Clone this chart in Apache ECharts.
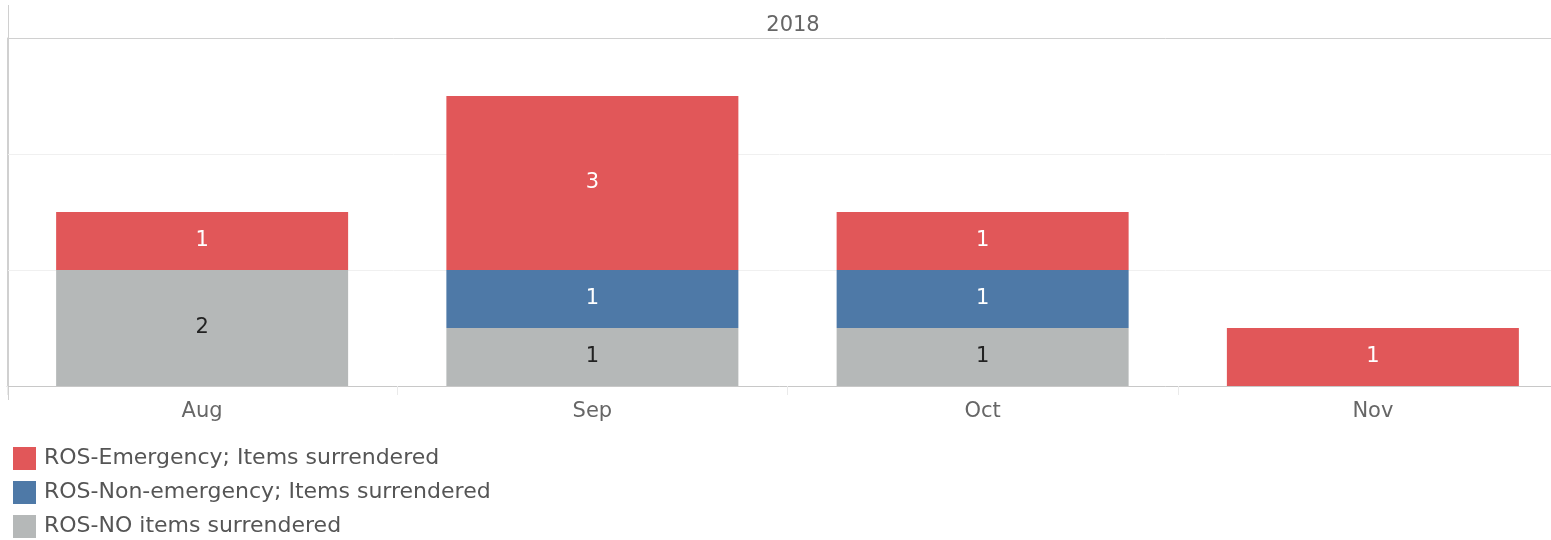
<!DOCTYPE html>
<html>
<head>
<meta charset="utf-8">
<script src="https://cdn.jsdelivr.net/npm/echarts@6/dist/echarts.min.js"></script>
<style>
  html, body { margin: 0; padding: 0; background: #fff; }
  #chart { width: 1551px; height: 540px; }
</style>
</head>
<body>
<div id="chart"></div>
<script>
const meses = ["Aug", "Sep", "Oct", "Nov"];
const anio = "2018";
const sinItems = [2, 1, 1, null];
const noEmergencia = [null, 1, 1, null];
const emergencia = [1, 3, 1, 1];

const nombres = [
    "ROS-Emergency; Items surrendered",
    "ROS-Non-emergency; Items surrendered",
    "ROS-NO items surrendered"
];
const colores = ["#e15759", "#4e79a7", "#b5b8b8"];
const fuente = "'DejaVu Sans', 'Noto Sans', sans-serif";

const contenedor = document.getElementById("chart");
const miGrafico = echarts.init(contenedor);

function serie(nombre, datos, color, colorTexto) {
    return {
        name: nombre,
        type: "bar",
        stack: "total",
        data: datos,
        barWidth: 292,
        itemStyle: { color: color },
        label: {
            show: true,
            position: "inside",
            color: colorTexto,
            fontSize: 21,
            fontFamily: fuente
        },
        emphasis: { disabled: true }
    };
}

const opciones = {
    animation: false,
    title: {
        text: anio,
        left: 788,
        textAlign: "center",
        top: 10,
        textStyle: { color: "#666", fontSize: 21, fontWeight: "normal", fontFamily: fuente }
    },
    legend: {
        orient: "vertical",
        left: 8,
        top: 442,
        height: 100,
        icon: "rect",
        itemWidth: 23,
        itemHeight: 23,
        itemGap: 11,
        data: nombres,
        selectedMode: false,
        textStyle: { color: "#555", fontSize: 22, fontFamily: fuente, padding: [0, 0, 0, 3] }
    },
    grid: {
        left: 7,
        top: 38,
        right: -17,
        bottom: 154,
        outerBoundsMode: "none",
        containLabel: false
    },
    xAxis: {
        type: "category",
        data: meses,
        axisLine: { show: true, lineStyle: { color: "#c8c8c8", width: 1 } },
        axisTick: { show: true, length: 9, lineStyle: { color: "#eaeaea" } },
        axisLabel: { color: "#666", fontSize: 21, margin: 15, fontFamily: fuente }
    },
    yAxis: {
        type: "value",
        min: 0,
        max: 6,
        interval: 2,
        axisLabel: { show: false },
        axisTick: { show: false },
        axisLine: { show: true, lineStyle: { color: "#d0d0d0" } },
        splitLine: {
            show: true,
            lineStyle: { color: ["#f0f0f0", "#f0f0f0", "#f0f0f0", "#d0d0d0"], width: 1 }
        }
    },
    graphic: [
        {
            type: "line",
            shape: { x1: 8.5, y1: 5, x2: 8.5, y2: 400 },
            style: { stroke: "#d0d0d0", lineWidth: 1 },
            silent: true
        }
    ],
    series: [
        serie(nombres[2], sinItems, colores[2], "#222"),
        serie(nombres[1], noEmergencia, colores[1], "#fff"),
        serie(nombres[0], emergencia, colores[0], "#fff")
    ]
};

miGrafico.setOption(opciones);
</script>
</body>
</html>
